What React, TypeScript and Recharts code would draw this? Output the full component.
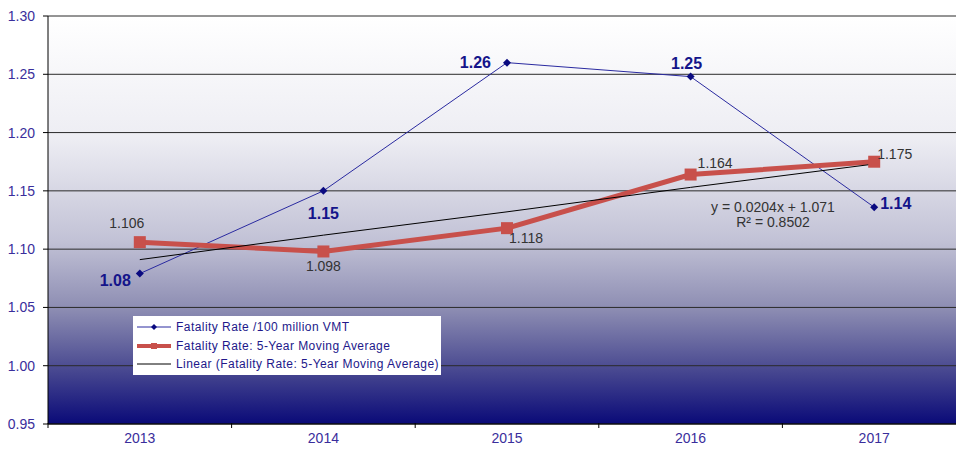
import React from 'react';
import {
  LineChart,
  Line,
  XAxis,
  YAxis,
  CartesianGrid,
} from 'recharts';

const years = ['2013', '2014', '2015', '2016', '2017'];
const fatalityRate = [1.079, 1.15, 1.26, 1.248, 1.136];
const movingAverage = [1.106, 1.098, 1.118, 1.164, 1.175];
const linearTrend = [1.091, 1.112, 1.132, 1.153, 1.173];
const yTicks = [0.95, 1.0, 1.05, 1.1, 1.15, 1.2, 1.25, 1.3];

const trendEquation = 'y = 0.0204x + 1.071';
const trendR2 = 'R² = 0.8502';

const legendNames = [
  'Fatality Rate /100 million VMT',
  'Fatality Rate: 5-Year Moving Average',
  'Linear (Fatality Rate: 5-Year Moving Average)',
];

const data = years.map((year, i) => ({
  year,
  rate: fatalityRate[i],
  avg: movingAverage[i],
  trend: linearTrend[i],
}));

const FONT = '"Liberation Sans", Arial, sans-serif';
const NAVY = '#14148a';
const RED = '#c8504b';
const AXIS_TEXT = '#3a2e9c';

const CHART_W = 966;
const PLOT_LEFT = 48;
const BAND = (CHART_W - PLOT_LEFT) / years.length;

// label placement per point: [dx, dy, anchor]
const rateLabelPos: [number, number, string][] = [
  [-9, 12, 'end'],
  [0, 28, 'middle'],
  [-16, 5, 'end'],
  [-4, -8, 'middle'],
  [6, 2, 'start'],
];
const avgLabelPos: [number, number, string][] = [
  [-13, -14, 'middle'],
  [0, 20, 'middle'],
  [2, 15, 'start'],
  [7, -7, 'start'],
  [3, -3, 'start'],
];

const Diamond = (props: any) => {
  const { cx, cy, index } = props;
  if (cx == null || cy == null) return null;
  const r = 4;
  return (
    <polygon
      key={`d-${index}`}
      points={`${cx},${cy - r} ${cx + r},${cy} ${cx},${cy + r} ${cx - r},${cy}`}
      fill="#0a0a80"
    />
  );
};

const Square = (props: any) => {
  const { cx, cy, index } = props;
  if (cx == null || cy == null) return null;
  return <rect key={`s-${index}`} x={cx - 6} y={cy - 6} width={12} height={12} fill={RED} />;
};

// x tick: label at band centre, tick mark on the band boundary (Excel style)
const YearTick = (props: any) => {
  const { x, y, payload } = props;
  const left = x - BAND / 2;
  return (
    <g>
      <line x1={left} y1={y - 1} x2={left} y2={y + 4} stroke="#000" />
      <text
        x={x}
        y={y + 19}
        textAnchor="middle"
        fill={AXIS_TEXT}
        fontSize={14}
        fontFamily={FONT}
      >
        {payload.value}
      </text>
    </g>
  );
};

const rateLabel = (props: any) => {
  const { x, y, index, value } = props;
  const [dx, dy, anchor] = rateLabelPos[index];
  return (
    <text
      key={`rl-${index}`}
      x={x + dx}
      y={y + dy}
      textAnchor={anchor as any}
      fill={NAVY}
      fontSize={16}
      fontWeight="bold"
      fontFamily={FONT}
    >
      {Number(value).toFixed(2)}
    </text>
  );
};

const avgLabel = (props: any) => {
  const { x, y, index, value } = props;
  const [dx, dy, anchor] = avgLabelPos[index];
  return (
    <text
      key={`al-${index}`}
      x={x + dx}
      y={y + dy}
      textAnchor={anchor as any}
      fill="#333"
      fontSize={14}
      fontFamily={FONT}
    >
      {Number(value).toFixed(3)}
    </text>
  );
};

// ── Legend box (Excel-style, sitting inside the plot) ──
function LegendBox() {
  const sample = (i: number) => {
    if (i === 0)
      return (
        <svg width={34} height={10}>
          <line x1={0} y1={5} x2={34} y2={5} stroke="#2a2aa0" strokeWidth={1} />
          <polygon points="17,2 20,5 17,8 14,5" fill="#0a0a80" />
        </svg>
      );
    if (i === 1)
      return (
        <svg width={34} height={10}>
          <line x1={0} y1={5} x2={34} y2={5} stroke={RED} strokeWidth={4} />
          <rect x={14} y={2} width={6} height={6} fill={RED} />
        </svg>
      );
    return (
      <svg width={34} height={10}>
        <line x1={0} y1={5} x2={34} y2={5} stroke="#000" strokeWidth={1} />
      </svg>
    );
  };
  return (
    <div
      style={{
        position: 'absolute',
        left: 133,
        top: 316,
        width: 308,
        height: 59,
        background: '#fff',
        boxSizing: 'border-box',
        padding: '2px 0 0 4px',
        fontFamily: FONT,
        fontSize: 12,
        color: '#22188a',
      }}
    >
      {legendNames.map((name, i) => (
        <div key={name} style={{ display: 'flex', alignItems: 'center', height: 18.5 }}>
          {sample(i)}
          <span style={{ marginLeft: 5, whiteSpace: 'nowrap', letterSpacing: 0.45 }}>{name}</span>
        </div>
      ))}
    </div>
  );
}

export default function App() {
  return (
    <div
      style={{
        position: 'absolute',
        left: 0,
        top: 0,
        width: 956,
        height: 452,
        overflow: 'hidden',
        background: '#fff',
      }}
    >
      <LineChart
        width={CHART_W}
        height={452}
        data={data}
        margin={{ top: 16, right: 0, bottom: 0, left: 0 }}
        style={{ fontFamily: FONT }}
      >
        <defs>
          <linearGradient id="plotBg" x1="0" y1="0" x2="0" y2="1">
            <stop offset="0%" stopColor="#ffffff" />
            <stop offset="30%" stopColor="#ededf3" />
            <stop offset="55%" stopColor="#c2c2d6" />
            <stop offset="72%" stopColor="#8c8cb2" />
            <stop offset="86%" stopColor="#4c4c92" />
            <stop offset="100%" stopColor="#0a0a78" />
          </linearGradient>
        </defs>
        <CartesianGrid
          vertical={false}
          stroke="#2a2a2a"
          fill="url(#plotBg)"
          fillOpacity={1}
        />
        <XAxis
          dataKey="year"
          scale="band"
          height={28}
          tickLine={false}
          tickSize={0}
          tickMargin={0}
          axisLine={{ stroke: '#000' }}
          tick={<YearTick />}
        />
        <YAxis
          domain={[0.95, 1.3]}
          ticks={yTicks}
          width={PLOT_LEFT}
          tickSize={5}
          tickMargin={8}
          tickFormatter={(v: number) => v.toFixed(2)}
          axisLine={{ stroke: '#000' }}
          tickLine={{ stroke: '#000' }}
          tick={{ fill: AXIS_TEXT, fontSize: 14, fontFamily: FONT }}
          allowDataOverflow
        />
        <Line
          dataKey="rate"
          stroke="#2a2aa0"
          strokeWidth={1}
          dot={Diamond}
          activeDot={false}
          label={rateLabel}
          isAnimationActive={false}
        />
        <Line
          dataKey="avg"
          stroke={RED}
          strokeWidth={5}
          dot={Square}
          activeDot={false}
          label={avgLabel}
          isAnimationActive={false}
        />
        <Line
          dataKey="trend"
          stroke="#000"
          strokeWidth={1}
          dot={false}
          activeDot={false}
          isAnimationActive={false}
        />
      </LineChart>
      <div
        style={{
          position: 'absolute',
          left: 693,
          top: 200,
          width: 160,
          textAlign: 'center',
          fontFamily: FONT,
          fontSize: 14,
          lineHeight: '15px',
          color: '#333',
        }}
      >
        <div>{trendEquation}</div>
        <div>{trendR2}</div>
      </div>
      <LegendBox />
    </div>
  );
}
